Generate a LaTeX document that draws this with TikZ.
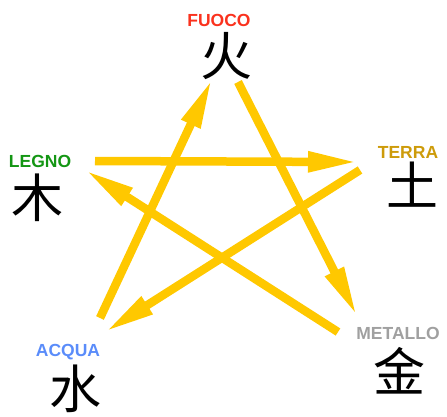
\documentclass[tikz,border=0pt]{standalone}
\usepackage{fontspec}
\newfontfamily\cjk{Noto Sans CJK SC}
\newfontfamily\lblfont{Liberation Sans}
\usetikzlibrary{positioning,arrows.meta}
\definecolor{arrowyellow}{RGB}{255,200,0}
\definecolor{fuococol}{RGB}{250,50,30}
\definecolor{legnocol}{RGB}{20,150,20}
\definecolor{terracol}{RGB}{205,155,10}
\definecolor{acquacol}{RGB}{90,140,250}
\definecolor{metallocol}{RGB}{160,160,160}

\begin{document}
\begin{tikzpicture}[x=1pt, y=-1pt,
  elem/.style={inner sep=0pt, font=\lblfont\bfseries\fontsize{17.5}{17.5}\selectfont},
  hanzi/.style={inner sep=0pt, font=\cjk\fontsize{52}{52}\selectfont},
  arrow/.style={-{Triangle[length=50pt, width=19pt]}, line width=8.5pt, arrowyellow}]
  \useasboundingbox (0,0) rectangle (447,417);
  % the five elements
  \node[elem, text=fuococol] (fuoco) at (219,20) {FUOCO};
  \node[hanzi] (huo) at (226,56) {火};
  \node[elem, text=legnocol] (legno) at (40,161) {LEGNO};
  \node[hanzi] (mu) at (38,198) {木};
  \node[elem, text=terracol] (terra) at (408,152) {TERRA};
  \node[hanzi] (tu) at (412,185) {土};
  \node[elem, text=acquacol] (acqua) at (68,352) {ACQUA};
  \node[hanzi] (shui) at (75,389) {水};
  \node[elem, text=metallocol] (metallo) at (398,333) {METALLO};
  \node[hanzi] (jin) at (399,371) {金};
  % ends of the control cycle arrows
  \coordinate (shui-out) at (100,318);
  \coordinate (huo-in) at (212,79);
  \coordinate (huo-out) at (238,82);
  \coordinate (jin-in) at (357,316);
  \coordinate (jin-out) at (338,332);
  \coordinate (mu-in) at (85,170);
  \coordinate (mu-out) at (95,161);
  \coordinate (tu-in) at (358,162);
  \coordinate (tu-out) at (360,170);
  \coordinate (shui-in) at (105,332);
  \draw[arrow] (shui-out) -- (huo-in);
  \draw[arrow] (huo-out) -- (jin-in);
  \draw[arrow] (jin-out) -- (mu-in);
  \draw[arrow] (mu-out) -- (tu-in);
  \draw[arrow] (tu-out) -- (shui-in);
\end{tikzpicture}
\end{document}
